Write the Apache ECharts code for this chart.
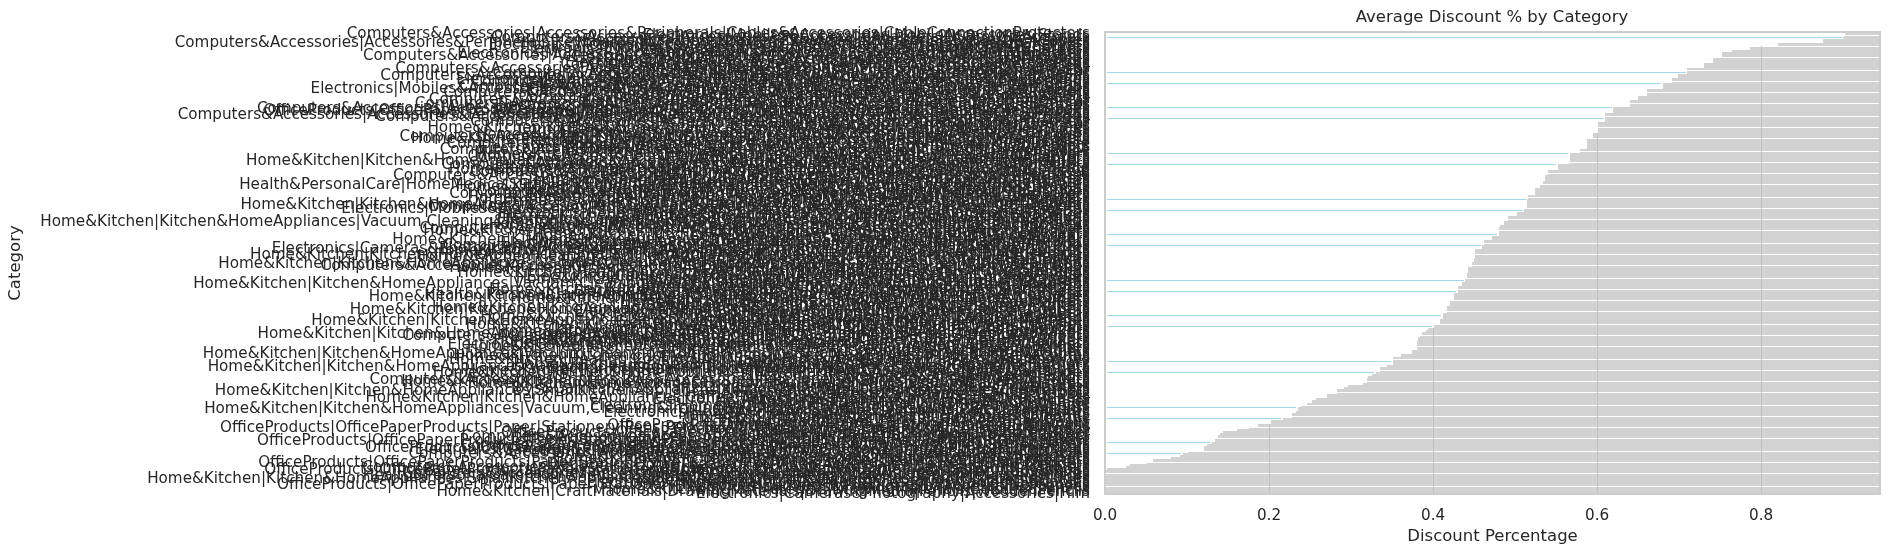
<!DOCTYPE html>
<html>
<head>
<meta charset="utf-8">
<script src="https://cdn.jsdelivr.net/npm/echarts@6/dist/echarts.min.js"></script>
<style>
html,body{margin:0;padding:0;background:#fff;}
#chart{width:1889px;height:556px;}
#chart svg{will-change:transform;}
#chart svg path{shape-rendering:crispEdges;}
</style>
</head>
<body>
<div id="chart"></div>
<script>
// Categories, sorted by average discount (descending, top to bottom)
const categories = [
/*0*/ "Computers&Accessories|Accessories&Peripherals|Cables&Accessories|CableConnectionProtectors",
"Electronics|Mobiles&Accessories|MobileAccessories|Stands",
"Computers&Accessories|Accessories&Peripherals|Adapters|USBtoUSBAdapters",
"Electronics|HomeTheater,TV&Video|Accessories|Cables|RCACables",
"Computers&Accessories|Accessories&Peripherals|Keyboards,Mice&InputDevices|Keyboard&MiceAccessories|DustCovers",
"Electronics|Mobiles&Accessories|MobileAccessories|Chargers|WirelessChargers",
"Computers&Accessories|ExternalDevices&DataStorage|PenDrives",
"Electronics|Mobiles&Accessories|MobileAccessories|Chargers|WallChargers",
"Computers&Accessories|Accessories&Peripherals|USBHubs",
"Electronics|Mobiles&Accessories|MobileAccessories|Cables&Adapters|OTGAdapters",
/*10*/ "Computers&Accessories|Accessories&Peripherals|LaptopAccessories|NotebookComputerStands",
"Electronics|HomeTheater,TV&Video|Accessories|Cables|HDMICables",
"Computers&Accessories|Accessories&Peripherals|HardDiskBags",
"Electronics|Mobiles&Accessories|MobileAccessories|ScreenProtectors",
"Computers&Accessories|Accessories&Peripherals|USBGadgets|Lamps",
"Electronics|Mobiles&Accessories|MobileAccessories|SelfieSticks",
"Computers&Accessories|Accessories&Peripherals|Keyboards,Mice&InputDevices|Keyboards",
"Electronics|Headphones,Earbuds&Accessories|Headphones|In-Ear",
"Computers&Accessories|Accessories&Peripherals|LaptopAccessories|Lapdesks",
"Computers&Accessories|Accessories&Peripherals|Cables&Accessories|Cables|EthernetCables",
/*20*/ "Electronics|HomeTheater,TV&Video|Accessories|RemoteControls",
"Electronics|Mobiles&Accessories|MobileAccessories|AutomobileAccessories|Cradles",
"Computers&Accessories|Accessories&Peripherals|LaptopAccessories|CoolingPads",
"Electronics|Mobiles&Accessories|MobileAccessories|Chargers|PowerBanks",
"Computers&Accessories|Accessories&Peripherals|PCGamingPeripherals|Gamepads",
"Electronics|Mobiles&Accessories|MobileAccessories|MaintenanceUpkeep&Repairs|ScreenProtectorFoils",
"Electronics|Mobiles&Accessories|MobileAccessories|Chargers|CarChargers",
"Computers&Accessories|ExternalDevices&DataStorage|ExternalMemoryCardReaders",
"Electronics|Mobiles&Accessories|MobileAccessories|StylusPens",
"Computers&Accessories|Accessories&Peripherals|TabletAccessories|Stands",
/*30*/ "Computers&Accessories|Accessories&Peripherals|Audio&VideoAccessories|PCSpeakers",
"Electronics|Headphones,Earbuds&Accessories|Headphones|On-Ear",
"Computers&Accessories|Accessories&Peripherals|Cables&Accessories|Cables|USBCables",
"Electronics|Mobiles&Accessories|MobileAccessories|Cases&Covers|BasicCases",
"Computers&Accessories|Accessories&Peripherals|LaptopAccessories|Bags&Sleeves|LaptopSleeves&Slipcases",
"OfficeProducts|OfficePaperProducts|Paper|Stationery|Notebooks,WritingPads&Diaries|Notepads&MemoBooks",
"Electronics|Mobiles&Accessories|MobileAccessories|Mounts|Bike&CycleMounts",
"Computers&Accessories|Accessories&Peripherals|Keyboards,Mice&InputDevices|Keyboard&MiceAccessories|MousePads",
"Computers&Accessories|Printers,Inks&Accessories|Inks,Toners&Cartridges|InkjetInkCartridges",
"Electronics|Mobiles&Accessories|MobileAccessories|Decor|PhoneCharms",
/*40*/ "Computers&Accessories|Accessories&Peripherals|PCGamingPeripherals|Headsets",
"Electronics|Headphones,Earbuds&Accessories|Headphones|Over-Ear",
"Electronics|WearableTechnology|SmartWatches",
"Home&Kitchen|Kitchen&HomeAppliances|SmallKitchenAppliances|DigitalKitchenScales",
"Computers&Accessories|Accessories&Peripherals|LaptopAccessories|Docks",
"Electronics|HomeTheater,TV&Video|Accessories|Cables|OpticalCables",
"Home&Kitchen|Kitchen&HomeAppliances|SmallKitchenAppliances|MixerGrinders",
"Computers&Accessories|Printers,Inks&Accessories|Inks,Toners&Cartridges|TonerCartridges",
"Home&Kitchen|Heating,Cooling&AirQuality|WaterHeaters&Geysers|StorageWaterHeaters",
"Electronics|Mobiles&Accessories|Smartphones&BasicMobiles|Smartphones",
/*50*/ "Computers&Accessories|Accessories&Peripherals|PCGamingPeripherals|GamingMice",
"Home&Kitchen|Heating,Cooling&AirQuality|RoomHeaters|FanHeaters",
"Electronics|Mobiles&Accessories|MobileAccessories|Mounts|Shower&WallMounts",
"Computers&Accessories|Accessories&Peripherals|Keyboards,Mice&InputDevices|Mice",
"Electronics|HomeTheater,TV&Video|Accessories|Cables|SpeakerCables",
"Home&Kitchen|Kitchen&HomeAppliances|SmallKitchenAppliances|HandBlenders",
"Computers&Accessories|NetworkingDevices|NetworkAdapters|PowerLANAdapters",
"Electronics|Headphones,Earbuds&Accessories|Adapters",
"Home&Kitchen|Kitchen&HomeAppliances|Vacuum,Cleaning&Ironing|PressureWashers,Steam&WindowCleaners",
"Computers&Accessories|ExternalDevices&DataStorage|ExternalHardDisks",
/*60*/ "Computers&Accessories|Accessories&Peripherals|TabletAccessories|ScreenProtectors",
"Electronics|HomeTheater,TV&Video|MediaStreamingDevices|StreamingClients",
"Home&Kitchen|Kitchen&HomeAppliances|SmallKitchenAppliances|InductionCooktop",
"Computers&Accessories|NetworkingDevices|NetworkAdapters|BluetoothAdapters",
"Electronics|HomeTheater,TV&Video|Televisions|SmartTelevisions",
"Computers&Accessories|Accessories&Peripherals|Batteries,Chargers&Accessories|Batteries",
"Home&Kitchen|Heating,Cooling&AirQuality|RoomHeaters|ElectricHeaters",
"Electronics|GeneralPurposeBatteries&BatteryChargers|DisposableBatteries",
"Computers&Accessories|NetworkingDevices|Repeaters&Extenders",
"Health&PersonalCare|HomeMedicalSupplies&Equipment|HealthMonitors|WeighingScales|DigitalBathroomScales",
/*70*/ "Home&Kitchen|Kitchen&HomeAppliances|SmallKitchenAppliances|SandwichMakers",
"Electronics|Cameras&Photography|Accessories|Tripods&Monopods|Tripods",
"Computers&Accessories|ExternalDevices&DataStorage|ExternalSolidStateDrives",
"Computers&Accessories|NetworkingDevices|NetworkAdapters|WirelessUSBAdapters",
"Electronics|HomeTheater,TV&Video|SatelliteEquipment|SatelliteReceivers",
"Home&Kitchen|Kitchen&HomeAppliances|SmallKitchenAppliances|Pop-upToasters",
"Computers&Accessories|Accessories&Peripherals|UninterruptedPowerSupplies",
"Electronics|HomeTheater,TV&Video|Speakers|SoundbarSpeakers",
"Home&Kitchen|Kitchen&HomeAppliances|Vacuum,Cleaning&Ironing|Irons,Steamers&Accessories|Irons|DryIrons",
"Computers&Accessories|Accessories&Peripherals|Audio&VideoAccessories|PCHeadsets",
/*80*/ "Electronics|Mobiles&Accessories|MobileAccessories|Photo&VideoAccessories|Flashes|SelfieFlashes",
"Home&Kitchen|Heating,Cooling&AirQuality|Fans|CeilingFans",
"Electronics|GeneralPurposeBatteries&BatteryChargers|RechargeableBatteries",
"Home&Kitchen|Kitchen&HomeAppliances|SmallKitchenAppliances|EggBoilers",
"Computers&Accessories|Components|InternalSolidStateDrives",
"Electronics|Cameras&Photography|Accessories|Tripods&Monopods|TripodLegs",
"Home&Kitchen|Kitchen&HomeAppliances|Vacuum,Cleaning&Ironing|Vacuums&FloorCare|VacuumAccessories|VacuumBags|HandheldBags",
"Home&Kitchen|Kitchen&HomeAppliances|SmallKitchenAppliances|RiceCookers",
"Electronics|Mobiles&Accessories|Smartphones&BasicMobiles|BasicMobiles",
"Computers&Accessories|Accessories&Peripherals|Cables&Accessories|Cables|DVICables",
/*90*/ "Home&Kitchen|Heating,Cooling&AirQuality|AirConditioners|Split-SystemAirConditioners",
"Electronics|HomeAudio|Speakers|BluetoothSpeakers",
"Home&Kitchen|Kitchen&HomeAppliances|SmallKitchenAppliances|Juicers",
"Computers&Accessories|NetworkingDevices|Routers",
"Home&Kitchen|Kitchen&HomeAppliances|WaterPurifiers&Accessories|WaterFilters&Purifiers",
"Home&Kitchen|Heating,Cooling&AirQuality|RoomHeaters|HalogenHeaters",
"Electronics|Cameras&Photography|Accessories|Tripods&Monopods|Monopods",
"Computers&Accessories|Accessories&Peripherals|LaptopAccessories|LaptopBatteries",
"Electronics|Cameras&Photography|Accessories|PhotoStudio&Lighting|ContinuousOutputLighting|RingLights",
"Home&Kitchen|Kitchen&HomeAppliances|SmallKitchenAppliances|JuicerMixerGrinders",
/*100*/ "Electronics|HomeTheater,TV&Video|Televisions|StandardTelevisions",
"Home&Kitchen|Kitchen&HomeAppliances|SmallKitchenAppliances|Kettles&HotWaterDispensers|ElectricKettles",
"Home&Kitchen|Heating,Cooling&AirQuality|WaterHeaters&Geysers|InstantWaterHeaters",
"Computers&Accessories|Components|InternalHardDrives",
"Electronics|Cameras&Photography|Accessories|Cleaners|CleaningKits",
"Home&Kitchen|Kitchen&HomeAppliances|Vacuum,Cleaning&Ironing|Irons,Steamers&Accessories|Irons|SteamIrons",
"Computers&Accessories|Accessories&Peripherals|LaptopAccessories|LaptopChargers&PowerSupplies",
"Home&Kitchen|Kitchen&HomeAppliances|SmallKitchenAppliances|OvenToasterGrills",
"Electronics|HomeAudio|Speakers|OutdoorSpeakers",
"Home&Kitchen|Heating,Cooling&AirQuality|WaterHeaters&Geysers|ImmersionRods",
/*110*/ "Computers&Accessories|NetworkingDevices|DataCards&Dongles",
"Electronics|Cameras&Photography|Accessories|Flashes|OnCameraFlashes",
"Home&Kitchen|Kitchen&HomeAppliances|SmallKitchenAppliances|Blenders",
"Electronics|HomeTheater,TV&Video|Accessories|3DGlasses",
"Home&Kitchen|Kitchen&HomeAppliances|Vacuum,Cleaning&Ironing|Vacuums&FloorCare|Vacuums|HandheldVacuums",
"Home&Kitchen|Heating,Cooling&AirQuality|Fans|TableFans",
"Computers&Accessories|Components|QuadrocopterAccessories",
"Home&Kitchen|Kitchen&HomeAppliances|SmallKitchenAppliances|StandMixers",
"Electronics|Cameras&Photography|SecurityCameras|DomeCameras",
"Health&PersonalCare|HomeMedicalSupplies&Equipment|HealthMonitors|Thermometers",
/*120*/ "Home&Kitchen|Kitchen&HomeAppliances|WaterPurifiers&Accessories|WaterPurifierAccessories",
"Home&Kitchen|Kitchen&HomeAppliances|SmallKitchenAppliances|Choppers",
"Electronics|HomeTheater,TV&Video|AVReceivers&Amplifiers",
"Home&Kitchen|Heating,Cooling&AirQuality|Fans|PedestalFans",
"Computers&Accessories|Printers,Inks&Accessories|Printers",
"Home&Kitchen|Kitchen&HomeAppliances|SmallKitchenAppliances|WaffleMakers&Irons",
"Home&Kitchen|Kitchen&HomeAppliances|SmallKitchenAppliances|MiniFoodProcessors&Choppers",
"Electronics|Cameras&Photography|SecurityCameras|BulletCameras",
"Home&Kitchen|Heating,Cooling&AirQuality|Fans|ExhaustFans",
"Home&Kitchen|Kitchen&HomeAppliances|SmallKitchenAppliances|YogurtMakers",
/*130*/ "Computers&Accessories|Laptops|TraditionalLaptops",
"Home&Kitchen|Kitchen&HomeAppliances|SewingMachines&Accessories|Sewing&EmbroideryMachines",
"Electronics|Cameras&Photography|VideoCameras|ActionCams",
"Home&Kitchen|Kitchen&HomeAppliances|SmallKitchenAppliances|VacuumSealers",
"Home&Kitchen|Heating,Cooling&AirQuality|Fans|WallFans",
"Car&Motorbike|CarAccessories|InteriorAccessories|AirPurifiers&Ionizers",
"Home&Kitchen|Kitchen&HomeAppliances|SmallKitchenAppliances|Rotimakers",
"Home&Kitchen|Kitchen&HomeAppliances|Vacuum,Cleaning&Ironing|Irons,Steamers&Accessories|LintShavers",
"Computers&Accessories|Accessories&Peripherals|PCGamingPeripherals|GamingKeyboards",
"Home&Kitchen|Heating,Cooling&AirQuality|AirPurifiers|HEPAAirPurifiers",
/*140*/ "Home&Kitchen|Kitchen&HomeAppliances|SmallKitchenAppliances|HandMixers",
"Electronics|Cameras&Photography|Binoculars,Telescopes&Optics|Binoculars",
"Electronics|Cameras&Photography|Accessories|Batteries&Chargers|BatteryChargers",
"Home&Kitchen|Kitchen&HomeAppliances|Coffee,Tea&Espresso|EspressoMachines",
"Home&Kitchen|Heating,Cooling&AirQuality|Humidifiers",
"Computers&Accessories|Tablets",
"Home&Kitchen|Kitchen&HomeAppliances|Vacuum,Cleaning&Ironing|Vacuums&FloorCare|Vacuums|CanisterVacuums",
"Home&Kitchen|Kitchen&HomeAppliances|Coffee,Tea&Espresso|DripCoffeeMachines",
"Electronics|Cameras&Photography|Flashes|SlaveFlashes",
"Home&Kitchen|Heating,Cooling&AirQuality|Parts&Accessories|FanParts&Accessories",
/*150*/ "Computers&Accessories|Components|Memory",
"Home&Kitchen|Kitchen&HomeAppliances|Coffee,Tea&Espresso|MilkFrothers",
"Home&Kitchen|Kitchen&HomeAppliances|Vacuum,Cleaning&Ironing|Irons,Steamers&Accessories|GarmentSteamers",
"Electronics|GeneralPurposeBatteries&BatteryChargers|BatteryChargers",
"Home&Kitchen|Kitchen&Dining|KitchenTools|ManualChoppers&Chippers|Choppers",
"Home&Kitchen|Kitchen&HomeAppliances|WaterPurifiers&Accessories|WaterCartridges",
"Electronics|PowerAccessories|SurgeProtectors",
"Computers&Accessories|Monitors",
"Computers&Accessories|Printers,Inks&Accessories|Inks,Toners&Cartridges|InkjetInkRefills&Kits",
"Home&Kitchen|Kitchen&HomeAppliances|SmallKitchenAppliances|DeepFatFryers|AirFryers",
/*160*/ "Home&Kitchen|HomeStorage&Organization|LaundryOrganization|LaundryBaskets",
"Electronics|PowerAccessories|PowerStrips",
"Toys&Games|Arts&Crafts|Drawing&PaintingSupplies|ColouringPens&Markers",
"Home&Kitchen|Kitchen&HomeAppliances|SmallKitchenAppliances|Kettles&HotWaterDispensers|Kettle&ToasterSets",
"Electronics|Accessories|MemoryCards|MicroSD",
"HomeImprovement|Electrical|Adapters&Multi-Outlets",
"Home&Kitchen|Kitchen&HomeAppliances|Coffee,Tea&Espresso|CoffeeGrinders|ElectricGrinders",
"Electronics|Accessories|MemoryCards|SecureDigitalCards",
"MusicalInstruments|Microphones|Condenser",
"Home&Kitchen|CraftMaterials|Scrapbooking|Tape",
/*170*/ "Electronics|HomeAudio|MediaStreamingDevices|StreamingClients",
"Home&Kitchen|Kitchen&HomeAppliances|Vacuum,Cleaning&Ironing|Vacuums&FloorCare|Vacuums|Wet-DryVacuums",
"OfficeProducts|OfficeElectronics|Calculators|Basic",
"Electronics|HomeAudio|Accessories|SpeakerAccessories|Mounts",
"Home&Kitchen|CraftMaterials|PaintingMaterials|Paints",
"MusicalInstruments|Microphones|Dynamic",
"OfficeProducts|OfficeElectronics|Calculators|Scientific",
"Electronics|Headphones,Earbuds&Accessories|Cases",
"HomeImprovement|Electrical|CordManagement",
"OfficeProducts|OfficeElectronics|Calculators|Financial&Business",
/*180*/ "OfficeProducts|OfficePaperProducts|Paper|Stationery|Pens,Pencils&WritingSupplies|Pens&Refills|StickBallpointPens",
"Electronics|Headphones,Earbuds&Accessories|Earpads",
"OfficeProducts|OfficePaperProducts|Paper|Copy&PrintingPaper|ColouredPaper",
"Electronics|WearableTechnology|FitnessTrackers",
"Computers&Accessories|Accessories&Peripherals|TabletAccessories|Cases&Covers",
"OfficeProducts|OfficePaperProducts|Paper|Copy&PrintingPaper|PrintingPaper",
"OfficeProducts|OfficePaperProducts|Paper|Stationery|Pens,Pencils&WritingSupplies|Pens&Refills|BallpointPens",
"Electronics|HomeTheater,TV&Video|Speakers|TowerSpeakers",
"Computers&Accessories|Accessories&Peripherals|LaptopAccessories|Skins&Decals",
"OfficeProducts|OfficePaperProducts|Paper|Stationery|Pens,Pencils&WritingSupplies|Highlighters",
/*190*/ "Electronics|Cameras&Photography|Accessories|PhotoStudio&Lighting|PhotoBackgrounds",
"Electronics|Mobiles&Accessories|MobileAccessories|Cases&Covers|FlipCases",
"Computers&Accessories|Accessories&Peripherals|Cables&Accessories|Cables|SATACables",
"Electronics|Mobiles&Accessories|MobileAccessories|Headsets",
"Home&Kitchen|Kitchen&Dining|Storage&Organisation|Jars&Containers",
"Electronics|HomeTheater,TV&Video|Projectors",
"OfficeProducts|OfficePaperProducts|Paper|Stationery|Pens,Pencils&WritingSupplies|Pens&Refills|FountainPens",
"Electronics|HomeTheater,TV&Video|Accessories|Cables|HDMIExtenders",
"Computers&Accessories|Accessories&Peripherals|Keyboards,Mice&InputDevices|GraphicTablets",
"OfficeProducts|OfficePaperProducts|Paper|Stationery|Notebooks,WritingPads&Diaries|CompositionNotebooks",
/*200*/ "Home&Kitchen|Kitchen&Dining|Dining&Serving|Cups&Mugs",
"Computers&Accessories|Accessories&Peripherals|Audio&VideoAccessories|PCMicrophones",
"Health&PersonalCare|HomeMedicalSupplies&Equipment|HealthMonitors|BloodPressureMonitors",
"Home&Kitchen|Kitchen&HomeAppliances|SmallKitchenAppliances|SmallApplianceParts&Accessories|StandMixerAccessories",
"Home&Kitchen|Kitchen&Dining|KitchenTools|Graters&Slicers",
"Electronics|HomeTheater,TV&Video|Accessories|Cables|DVICables",
"OfficeProducts|OfficePaperProducts|Paper|Stationery|Notebooks,WritingPads&Diaries|WireboundNotebooks",
"Electronics|Cameras&Photography|Accessories|Lenses",
"Home&Kitchen|CraftMaterials|DrawingMaterials|ColouredPencils",
"Home&Kitchen|CraftMaterials|DrawingMaterials|DrawingMedia|Pencils|WoodenPencils",
/*210*/ "Electronics|Cameras&Photography|Accessories|Film"
];

// Average discount percentage per category (same order)
const discounts = [
0.902,0.901,0.900,0.876,0.876,0.821,0.787,0.787,0.765,0.752,
0.752,0.741,0.741,0.741,0.730,0.730,0.710,0.710,0.710,0.699,
0.699,0.691,0.691,0.680,0.680,0.680,0.661,0.661,0.661,0.650,
0.650,0.640,0.640,0.640,0.620,0.620,0.620,0.610,0.610,0.610,
0.610,0.601,0.601,0.601,0.601,0.601,0.595,0.595,0.588,0.588,
0.588,0.588,0.588,0.579,0.579,0.567,0.567,0.567,0.567,0.567,
0.552,0.552,0.552,0.540,0.540,0.537,0.537,0.537,0.534,0.530,
0.530,0.524,0.524,0.524,0.516,0.516,0.515,0.515,0.515,0.515,
0.511,0.511,0.502,0.502,0.491,0.491,0.487,0.487,0.482,0.480,
0.480,0.480,0.480,0.472,0.472,0.462,0.462,0.460,0.460,0.451,
0.451,0.451,0.451,0.450,0.450,0.448,0.448,0.443,0.443,0.443,
0.441,0.441,0.439,0.439,0.435,0.435,0.430,0.430,0.430,0.426,
0.426,0.426,0.421,0.421,0.421,0.417,0.417,0.417,0.412,0.412,
0.412,0.409,0.409,0.401,0.401,0.394,0.392,0.387,0.384,0.382,
0.382,0.380,0.380,0.380,0.380,0.374,0.374,0.361,0.351,0.351,
0.351,0.351,0.344,0.335,0.335,0.330,0.326,0.321,0.320,0.320,
0.315,0.296,0.291,0.283,0.283,0.271,0.271,0.257,0.252,0.246,
0.239,0.235,0.235,0.233,0.228,0.228,0.217,0.202,0.202,0.187,
0.176,0.161,0.144,0.140,0.138,0.134,0.134,0.130,0.124,0.121,
0.121,0.101,0.095,0.091,0.080,0.059,0.051,0.030,0.026,0.003,
0,0,0,0,0,0,0,0,0,0,
0
];

const xTicks = [0, 0.2, 0.4, 0.6, 0.8];
const xMax = 0.945;

const FONT = "'DejaVu Sans', sans-serif";
const TEXT = '#262626';

const chart = echarts.init(document.getElementById('chart'), null, {renderer: 'svg'});
chart.setOption({
  backgroundColor: '#ffffff',
  animation: false,
  title: {
    text: 'Average Discount % by Category',
    left: 1492,
    top: 8,
    padding: 0,
    textAlign: 'center',
    textStyle: {fontFamily: FONT, fontSize: 16.5, fontWeight: 'normal', color: TEXT}
  },
  grid: {
    left: 1105, right: 9, top: 32, bottom: 62,
    show: true, z: 5,
    backgroundColor: 'transparent',
    borderColor: '#cccccc', borderWidth: 1.25
  },
  xAxis: {
    type: 'value',
    min: 0, max: xMax, interval: xTicks[1] - xTicks[0],
    name: 'Discount Percentage',
    nameLocation: 'middle',
    nameGap: 33,
    nameTextStyle: {fontFamily: FONT, fontSize: 16.5, color: TEXT},
    axisLine: {show: false},
    axisTick: {show: false},
    axisLabel: {
      fontFamily: FONT, fontSize: 15.2, color: TEXT, margin: 13,
      showMaxLabel: false,
      formatter: v => (xTicks.some(t => Math.abs(t - v) < 1e-9) ? v.toFixed(1) : '')
    },
    splitLine: {show: true, lineStyle: {color: '#c0c0c0', width: 1.3}}
  },
  yAxis: {
    type: 'category',
    data: categories,
    inverse: true,
    name: 'Category',
    nameLocation: 'middle',
    nameRotate: 90,
    nameGap: 1082,
    nameTextStyle: {fontFamily: FONT, fontSize: 16.5, color: TEXT},
    axisLine: {show: false},
    axisTick: {show: false},
    axisLabel: {interval: 0, fontFamily: FONT, fontSize: 15.2, color: TEXT, margin: 15},
    splitLine: {show: true, interval: 0, lineStyle: {color: '#d2d2d2', width: 1.7}}
  },
  series: [{
    type: 'bar',
    data: discounts,
    barWidth: 3.14,
    silent: true,
    itemStyle: {color: '#a3d8ed', borderColor: '#ffffff', borderWidth: 1.52}
  }]
});
</script>
</body>
</html>
